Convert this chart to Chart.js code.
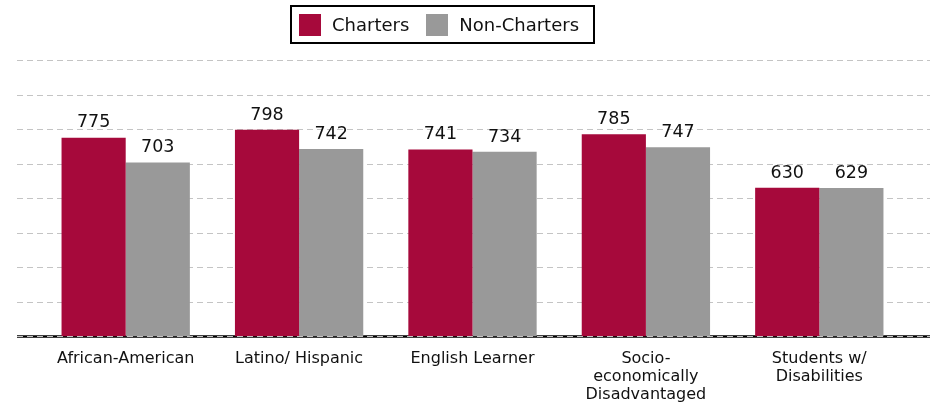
<!DOCTYPE html>
<html>
<head>
<meta charset="utf-8">
<script src="https://cdn.jsdelivr.net/npm/chart.js@4"></script>
<style>
  html, body { margin: 0; padding: 0; background: #fff; }
  #wrap { width: 934px; height: 404px; position: relative; }
  #legend {
    position: absolute; left: 290px; top: 5px; width: 301px; height: 35px;
    border: 2px solid #000; box-sizing: content-box;
    font-family: "DejaVu Sans"; font-size: 18px; color: #111;
    display: flex; align-items: center;
  }
  #legend span.sw { display: inline-block; width: 22px; height: 22px; margin-right: 11px; }
  #legend span.it { display: flex; align-items: center; }
</style>
</head>
<body>
<div id="wrap">
  <canvas id="myChart" width="934" height="404"></canvas>
  <div id="legend"></div>
</div>
<script>
// categories and values
var categories = [
  "African-American",
  "Latino/ Hispanic",
  "English Learner",
  ["Socio-", "economically", "Disadvantaged"],
  ["Students w/", "Disabilities"]
];
var seriesNames = ["Charters", "Non-Charters"];
var charters = [775, 798, 741, 785, 630];
var nonCharters = [703, 742, 734, 747, 629];
var yTicks = [200, 300, 400, 500, 600, 700, 800, 900, 1000];
var colors = ['#a6093b', '#999999'];

// legend in html, framed like the original
var lg = document.getElementById('legend');
seriesNames.forEach(function (name, i) {
  var it = document.createElement('span');
  it.className = 'it';
  it.style.marginLeft = i == 0 ? '7px' : '17px';
  it.innerHTML = '<span class="sw" style="background:' + colors[i] + '"></span>' + name;
  lg.appendChild(it);
});

// dashed grid lines, wider than the plot area
const gridPlugin = {
  id: 'dashGrid',
  beforeDatasetsDraw(chart) {
    const ctx = chart.ctx, y = chart.scales.y, area = chart.chartArea;
    const x0 = area.left - 22, x1 = area.right + 24;
    ctx.save();
    const yb = Math.round(y.getPixelForValue(yTicks[0])) + 0.5;
    ctx.strokeStyle = '#000';
    ctx.lineWidth = 2.5;
    ctx.beginPath(); ctx.moveTo(x0, yb); ctx.lineTo(x1, yb); ctx.stroke();
    ctx.setLineDash([6, 4]);
    ctx.lineWidth = 1;
    ctx.strokeStyle = '#c4c4c4';
    yTicks.forEach(function (v) {
      const py = Math.round(y.getPixelForValue(v)) + 0.5;
      ctx.beginPath(); ctx.moveTo(x0, py); ctx.lineTo(x1, py); ctx.stroke();
    });
    ctx.restore();
  },
  afterDatasetsDraw(chart) {
    const ctx = chart.ctx, y = chart.scales.y, area = chart.chartArea;
    const yb = Math.round(y.getPixelForValue(yTicks[0])) + 0.5;
    ctx.save();
    ctx.setLineDash([6, 4]);
    ctx.strokeStyle = '#c4c4c4';
    ctx.lineWidth = 1;
    ctx.beginPath(); ctx.moveTo(area.left - 22, yb); ctx.lineTo(area.right + 24, yb); ctx.stroke();
    ctx.restore();
  }
};

// numbers over the bars
const valuePlugin = {
  id: 'barValues',
  afterDatasetsDraw(chart) {
    const ctx = chart.ctx;
    ctx.save();
    ctx.font = '17.5px "DejaVu Sans"';
    ctx.fillStyle = '#111';
    ctx.textAlign = 'center';
    ctx.textBaseline = 'bottom';
    chart.data.datasets.forEach(function (ds, i) {
      chart.getDatasetMeta(i).data.forEach(function (bar, j) {
        ctx.fillText(ds.data[j], bar.x, bar.y - 6);
      });
    });
    ctx.restore();
  }
};

const ctx = document.getElementById('myChart');
new Chart(ctx, {
  type: 'bar',
  data: {
    labels: categories,
    datasets: [
      { label: seriesNames[0], data: charters, backgroundColor: colors[0], borderWidth: 0,
        categoryPercentage: 0.74, barPercentage: 1.0 },
      { label: seriesNames[1], data: nonCharters, backgroundColor: colors[1], borderWidth: 0,
        categoryPercentage: 0.74, barPercentage: 1.0 }
    ]
  },
  options: {
    responsive: false,
    animation: false,
    devicePixelRatio: 1,
    layout: { padding: { left: 39, right: 28, top: 60, bottom: -6 } },
    plugins: {
      legend: { display: false },
      tooltip: { enabled: false }
    },
    scales: {
      x: {
        grid: { display: false },
        border: { display: false },
        ticks: { color: '#111', font: { family: 'DejaVu Sans', size: 16, lineHeight: 1.12 },
                 maxRotation: 0, autoSkip: false, padding: 6 }
      },
      y: {
        display: false,
        min: 200, max: 1000,
        ticks: { stepSize: 100 }
      }
    }
  },
  plugins: [gridPlugin, valuePlugin]
});
</script>
</body>
</html>
